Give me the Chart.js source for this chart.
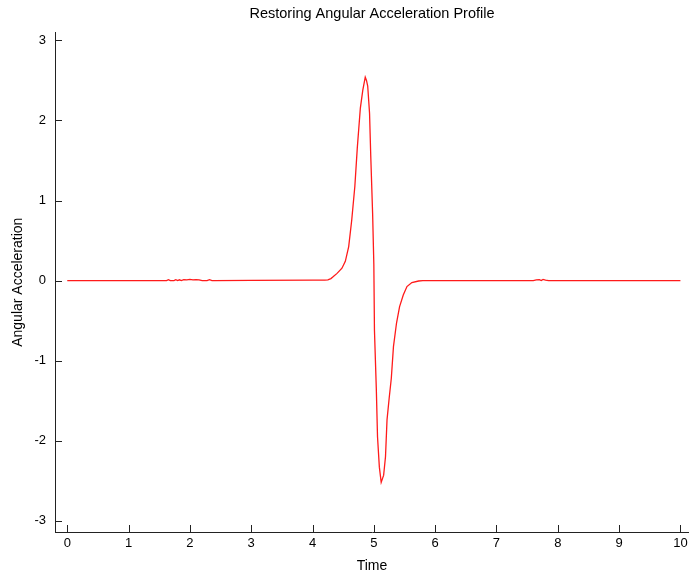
<!DOCTYPE html>
<html>
<head>
<meta charset="utf-8">
<script src="https://cdn.jsdelivr.net/npm/chart.js@4.4.1/dist/chart.umd.min.js"></script>
<style>
    html, body { margin: 0; padding: 0; background: #fff; }
    #wrap { width: 689px; height: 576px; }
</style>
</head>
<body>
<div id="wrap"><canvas id="accelChart" width="689" height="576"></canvas></div>
<script>
// values
const time = [0, 1.35, 1.62, 1.65, 1.68, 1.74, 1.77, 1.8, 1.83, 1.86, 1.9, 1.95, 2.0, 2.05, 2.1, 2.15, 2.2, 2.28, 2.32, 2.36, 2.4,
    3.0, 4.0, 4.2, 4.25, 4.3, 4.34, 4.4, 4.48, 4.535, 4.59, 4.64, 4.69, 4.73, 4.78, 4.82, 4.86, 4.88, 4.9, 4.93, 4.95, 4.98,
    5.0, 5.01, 5.04, 5.06, 5.09, 5.12, 5.16, 5.19, 5.215, 5.25, 5.285, 5.32, 5.37, 5.42, 5.48, 5.54, 5.62, 5.73, 5.8,
    6.5, 7.6, 7.65, 7.7, 7.73, 7.76, 7.8, 7.85, 8.5, 10.0];
const accel = [0, 0, 0, 0.012, 0, 0, 0.012, 0, 0.01, 0, 0.012, 0.01, 0.014, 0.008, 0.012, 0.01, 0, 0, 0.012, 0, 0,
    0.003, 0.005, 0.005, 0.01, 0.025, 0.05, 0.09, 0.155, 0.24, 0.425, 0.76, 1.175, 1.655, 2.155, 2.38, 2.54, 2.5, 2.43, 2.09, 1.55, 0.84,
    0.2, -0.62, -1.34, -1.95, -2.33, -2.52, -2.43, -2.2, -1.74, -1.47, -1.22, -0.825, -0.53, -0.325, -0.18, -0.075, -0.025, -0.005, 0,
    0, 0, 0.01, 0.012, 0, 0.014, 0.005, 0, 0, 0];
const xTicks = [0, 1, 2, 3, 4, 5, 6, 7, 8, 9, 10];
const yTicks = [-3, -2, -1, 0, 1, 2, 3];

const fontFamily = "'Liberation Sans', Arial, Helvetica, sans-serif";
const axisColor = '#222';

// MATLAB style ticks pointing into the axes
const innerTicks = {
    id: 'innerTicks',
    afterDraw(chart) {
        const ctx = chart.ctx;
        const xs = chart.scales.x;
        const ys = chart.scales.y;
        const area = chart.chartArea;
        ctx.save();
        ctx.strokeStyle = axisColor;
        ctx.lineWidth = 1;
        ctx.beginPath();
        xTicks.forEach(v => {
            const px = Math.round(xs.getPixelForValue(v)) + 0.5;
            ctx.moveTo(px, area.bottom);
            ctx.lineTo(px, area.bottom - 7);
        });
        yTicks.forEach(v => {
            const py = Math.round(ys.getPixelForValue(v)) + 0.5;
            ctx.moveTo(area.left, py);
            ctx.lineTo(area.left + 7, py);
        });
        ctx.stroke();
        ctx.restore();
    }
};

const ctx = document.getElementById('accelChart').getContext('2d');
new Chart(ctx, {
    type: 'line',
    data: {
        datasets: [{
            data: time.map((t, i) => ({ x: t, y: accel[i] })),
            borderColor: '#ff1a1a',
            borderWidth: 1.3,
            pointRadius: 0,
            tension: 0,
            fill: false
        }]
    },
    options: {
        responsive: false,
        animation: false,
        layout: { padding: 0 },
        plugins: {
            legend: { display: false },
            tooltip: { enabled: false },
            title: {
                display: true,
                text: 'Restoring Angular Acceleration Profile',
                fullSize: false,
                color: '#000',
                font: { family: fontFamily, size: 14.5, weight: 'normal' },
                padding: { top: 5, bottom: 10 }
            }
        },
        scales: {
            x: {
                type: 'linear',
                min: -0.2,
                max: 10.14,
                afterFit: s => { s.height = 44; s.paddingRight = 0; },
                afterBuildTicks: s => { s.ticks = xTicks.map(v => ({ value: v })); },
                grid: { display: false, drawTicks: false },
                border: { display: true, color: axisColor, width: 1 },
                ticks: {
                    color: '#000',
                    padding: 4,
                    maxRotation: 0,
                    font: { family: fontFamily, size: 13 }
                },
                title: {
                    display: true,
                    text: 'Time',
                    color: '#000',
                    font: { family: fontFamily, size: 14 },
                    padding: { top: 1, bottom: 1 }
                }
            },
            y: {
                type: 'linear',
                min: -3.14,
                max: 3.1,
                afterFit: s => { s.width = 55; },
                afterBuildTicks: s => { s.ticks = yTicks.map(v => ({ value: v })); },
                grid: { display: false, drawTicks: false },
                border: { display: true, color: axisColor, width: 1 },
                ticks: {
                    color: '#000',
                    padding: 9,
                    font: { family: fontFamily, size: 13 }
                },
                title: {
                    display: true,
                    text: 'Angular Acceleration',
                    color: '#000',
                    font: { family: fontFamily, size: 14 },
                    padding: { top: 10, bottom: 9 }
                }
            }
        }
    },
    plugins: [innerTicks]
});
</script>
</body>
</html>
